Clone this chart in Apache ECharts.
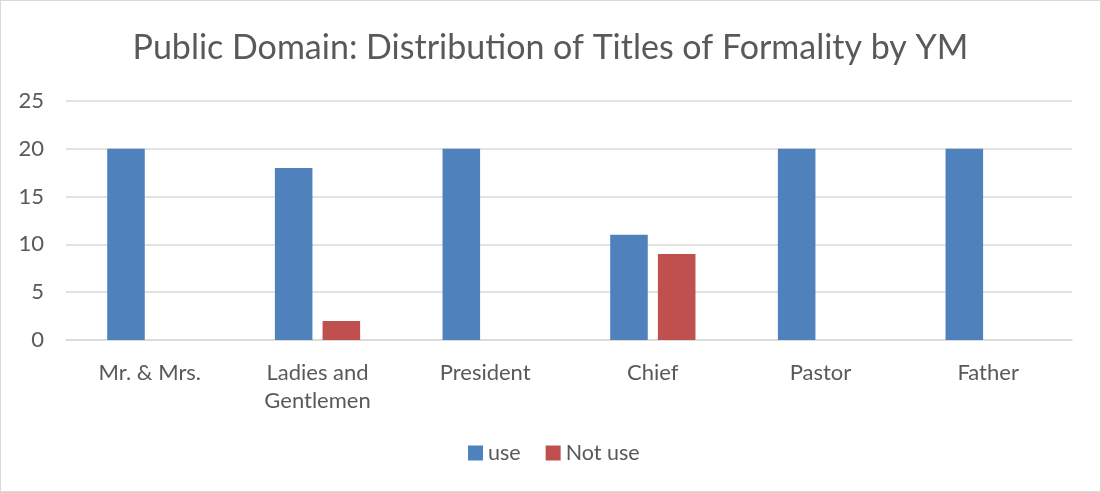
<!DOCTYPE html>
<html><head><meta charset="utf-8">
<script src="https://cdn.jsdelivr.net/npm/echarts@6/dist/echarts.min.js"></script>
<style>html,body{margin:0;padding:0;background:#fff}#c{width:1101px;height:492px;box-sizing:border-box;border:1px solid #d9d9d9}</style>
</head><body><div id="c"></div>
<script>
const categories = ['Mr. & Mrs.', 'Ladies and\nGentlemen', 'President', 'Chief', 'Pastor', 'Father'];
const useValues = [20, 18, 20, 11, 20, 20];
const notUseValues = [0, 2, 0, 9, 0, 0];
const yTicks = [0, 5, 10, 15, 20, 25];
const chart = echarts.init(document.getElementById('c'));
const font = 'Lato, "Liberation Sans", sans-serif';
chart.setOption({
  animation: false,
  title: { text: 'Public Domain: Distribution of Titles of Formality by YM', left: 'center', top: 25,
    textStyle: { fontFamily: font, fontWeight: 'normal', fontSize: 34, color: '#595959' } },
  legend: { bottom: 22, left: 462, itemWidth: 15, itemHeight: 15, itemGap: 25, icon: 'rect',
    textStyle: { fontFamily: font, fontSize: 21.5, color: '#595959' } },
  grid: { left: 65, right: 28, top: 100, bottom: 151 },
  xAxis: { type: 'category', data: categories,
    axisLine: { lineStyle: { color: '#d9d9d9', width: 1.5 } }, axisTick: { show: false },
    axisLabel: { fontFamily: font, fontSize: 22, color: '#595959', margin: 19, lineHeight: 28, interval: 0 } },
  yAxis: { type: 'value', min: 0, max: 25, interval: 5,
    axisLine: { show: false }, axisTick: { show: false },
    splitLine: { lineStyle: { color: '#d9d9d9', width: 1.5 } },
    axisLabel: { fontFamily: font, fontSize: 22, color: '#595959', margin: 22,
      formatter: v => yTicks.includes(v) ? String(v) : '' } },
  series: [
    { name: 'use', type: 'bar', data: useValues, barWidth: '22.4%', barGap: '27%',
      itemStyle: { color: '#4f81bd' } },
    { name: 'Not use', type: 'bar', data: notUseValues, barWidth: '22.4%',
      itemStyle: { color: '#c0504d' } }
  ]
});
</script></body></html>
